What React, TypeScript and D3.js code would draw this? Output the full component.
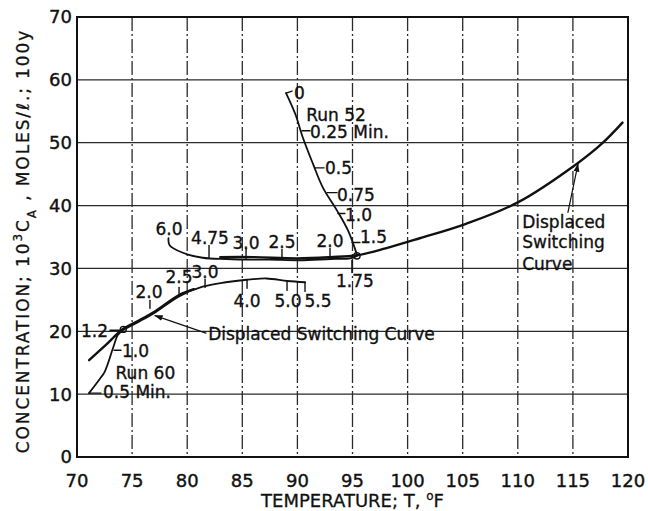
import React from "react";
import * as d3 from "d3";

// axis ticks
const xTicks = [70, 75, 80, 85, 90, 95, 100, 105, 110, 115, 120];
const yTicks = [0, 10, 20, 30, 40, 50, 60, 70];

// displaced switching curve (upper right branch)
const switchUpT = [83, 86, 90, 93, 95.4, 98, 101.1, 105.3, 110, 115.4, 117.6, 119.5];
const switchUpC = [31.8, 31.8, 31.6, 31.8, 32.1, 33.2, 34.8, 37.1, 40.5, 46.7, 49.8, 53.2];

// displaced switching curve (lower left branch)
const switchLowT = [71.1, 72.6, 74.2, 75.7, 77.1, 79.3, 80.6];
const switchLowC = [15.4, 17.8, 20.4, 21.8, 23.2, 25.8, 26.7];

// Run 52 trajectory: drop to the curve, then back along it
const run52DownT = [88.97, 89.8, 90.5, 91.4, 92.3, 93.6, 94.6, 95.4];
const run52DownC = [57.9, 54.6, 50.8, 46.7, 42.9, 39.2, 36.0, 32.2];
const run52BackT = [95.4, 94.8, 93.0, 90.2, 87.5, 85.7, 83.6, 81.4, 79.6, 78.4, 78.3];
const run52BackC = [32.0, 31.6, 31.5, 31.3, 31.4, 31.4, 31.5, 31.7, 32.5, 33.7, 34.8];

// Run 60 trajectory
const run60T = [71.09, 72.1, 72.5, 73.3, 73.7, 74.2, 75.7, 77.1, 79.3, 81.4, 83.5, 85.4, 87.2, 89.1, 90.7];
const run60C = [10.16, 12.5, 13.5, 17.5, 19.4, 20.2, 21.6, 23.0, 25.6, 27.1, 27.8, 28.2, 28.4, 28.0, 27.8];

// time marks (minutes) along each run
const run52Labels = ["0", "0.25 Min.", "0.5", "0.75", "1.0", "1.5", "1.75", "2.0", "2.5", "3.0", "4.75", "6.0"];
const run52MarkT = [88.97, 90.42, 91.6, 92.69, 93.68, 94.95, 94.95, 92.96, 88.6, 85.34, 81.98, 78.35];
const run52MarkC = [57.9, 51.9, 46.0, 42.06, 38.73, 34.13, 31.27, 31.59, 31.43, 31.59, 31.75, 34.76];

const run60Labels = ["0.5 Min.", "1.0", "1.2", "2.0", "2.5", "3.0", "4.0", "5.0", "5.5"];
const run60MarkT = [71.09, 73.36, 73.9, 76.62, 79.26, 81.62, 85.43, 89.06, 90.69];
const run60MarkC = [10.16, 16.98, 20.16, 23.65, 25.56, 26.98, 28.1, 27.78, 27.78];

// layout of each time mark: tick vector, text offset, anchor
type Lay = { tick: [number, number]; text: [number, number]; anchor: string };
const run52Layout: Lay[] = [
  { tick: [6, -2], text: [8, 6], anchor: "start" },
  { tick: [8, 0], text: [8, 7], anchor: "start" },
  { tick: [9, 0], text: [10, 6], anchor: "start" },
  { tick: [10, 0], text: [10, 8], anchor: "start" },
  { tick: [7, 0], text: [7, 7], anchor: "start" },
  { tick: [8, 0], text: [8, 1], anchor: "start" },
  { tick: [0, 12], text: [3, 27], anchor: "middle" },
  { tick: [0, -10], text: [0, -11], anchor: "middle" },
  { tick: [0, -10], text: [0, -11], anchor: "middle" },
  { tick: [0, -10], text: [0, -9], anchor: "middle" },
  { tick: [0, -12], text: [1, -13], anchor: "middle" },
  { tick: [0, 0], text: [0, -4], anchor: "middle" },
];
const run60Layout: Lay[] = [
  { tick: [12, 0], text: [14, 5], anchor: "start" },
  { tick: [7, 0], text: [8, 7], anchor: "start" },
  { tick: [-10, 0], text: [-12, 7], anchor: "end" },
  { tick: [0, -8], text: [-1, -10], anchor: "middle" },
  { tick: [0, -9], text: [0, -13], anchor: "middle" },
  { tick: [0, -8], text: [0, -9], anchor: "middle" },
  { tick: [0, 8], text: [0, 27], anchor: "middle" },
  { tick: [0, 8], text: [1, 25], anchor: "middle" },
  { tick: [0, 9], text: [13, 25], anchor: "middle" },
];

// free text notes, anchored in data coordinates
const notes = [
  { text: "Run 52", T: 90.8, C: 53.5 },
  { text: "Run 60", T: 73.5, C: 12.4 },
  { text: "Displaced Switching Curve", T: 81.9, C: 18.6 },
  { text: "Displaced", T: 110.4, C: 36.5 },
  { text: "Switching", T: 110.4, C: 33.2 },
  { text: "Curve", T: 110.4, C: 29.7 },
];

// arrows [fromT, fromC, toT, toC]
const arrows = [
  [81.7, 19.7, 77.08, 22.5],
  [114.55, 38.9, 115.46, 46.6],
];

const W = 648;
const H = 511;
const FONT = "'DejaVu Sans', sans-serif";
const INK = "#111";
const GRID = "#2a2a2a";

// dash-dot vertical rule as plain path segments
function dashDot(x0: number, top: number, bottom: number) {
  const pattern = [14, 3, 2, 3];
  let d = "";
  let pos = top;
  let k = 0;
  while (pos < bottom) {
    const end = Math.min(pos + pattern[k % 4], bottom);
    if (k % 2 === 0) d += `M${x0},${pos}V${end}`;
    pos = end;
    k++;
  }
  return d;
}

export default function App() {
  const x = d3.scaleLinear().domain([70, 120]).range([77, 628]);
  const y = d3.scaleLinear().domain([0, 70]).range([457, 17]);

  const path = d3
    .line<[number, number]>()
    .x((d) => x(d[0]))
    .y((d) => y(d[1]))
    .curve(d3.curveCatmullRom.alpha(0.5));

  const zip = (a: number[], b: number[]) => a.map((v, i) => [v, b[i]] as [number, number]);

  const marks = (labels: string[], ts: number[], cs: number[], lay: Lay[]) =>
    labels.map((l, i) => ({ l, px: x(ts[i]), py: y(cs[i]), lay: lay[i] }));
  const allMarks = [
    ...marks(run52Labels, run52MarkT, run52MarkC, run52Layout),
    ...marks(run60Labels, run60MarkT, run60MarkC, run60Layout),
  ];

  const gridPath =
    xTicks
      .slice(1, -1)
      .map((t) => dashDot(x(t), y(70), y(0)))
      .join("") +
    yTicks
      .slice(1, -1)
      .map((t) => `M${x(70)},${y(t)}H${x(120)}`)
      .join("");

  return (
    <div style={{ position: "absolute", left: 0, top: 0 }}>
      <svg width={W} height={H} style={{ display: "block", background: "white" }}>
        <defs>
          <marker id="ah" viewBox="0 0 10 10" refX="9" refY="5" markerWidth="7" markerHeight="7" orient="auto">
            <path d="M0,1.5 L10,5 L0,8.5 z" fill={INK} />
          </marker>
        </defs>

        {/* grid */}
        <path d={gridPath} fill="none" stroke={GRID} strokeWidth={1.3} />

        {/* frame */}
        <rect
          x={x(70)}
          y={y(70)}
          width={x(120) - x(70)}
          height={y(0) - y(70)}
          fill="none"
          stroke={INK}
          strokeWidth={2}
        />

        {/* curves */}
        <g fill="none" stroke={INK} strokeLinecap="round" strokeLinejoin="round">
          <path d={path(zip(switchUpT, switchUpC)) ?? ""} strokeWidth={2.4} />
          <path d={path(zip(switchLowT, switchLowC)) ?? ""} strokeWidth={2.4} />
          <path d={path(zip(run52DownT, run52DownC)) ?? ""} strokeWidth={1.8} />
          <path d={path(zip(run52BackT, run52BackC)) ?? ""} strokeWidth={1.8} />
          <path d={path(zip(run60T, run60C)) ?? ""} strokeWidth={1.8} />
          <circle cx={x(95.4)} cy={y(32.0)} r={3.2} strokeWidth={1.4} />
          <circle cx={x(74.2)} cy={y(20.3)} r={3} strokeWidth={1.4} />
          {allMarks.map((m, i) =>
            m.lay.tick[0] === 0 && m.lay.tick[1] === 0 ? null : (
              <line
                key={"t" + i}
                x1={m.px}
                y1={m.py}
                x2={m.px + m.lay.tick[0]}
                y2={m.py + m.lay.tick[1]}
                strokeWidth={1.4}
              />
            )
          )}
          {arrows.map((a, i) => (
            <line
              key={"a" + i}
              x1={x(a[0])}
              y1={y(a[1])}
              x2={x(a[2])}
              y2={y(a[3])}
              strokeWidth={1.2}
              markerEnd="url(#ah)"
            />
          ))}
        </g>

        {/* run labels */}
        <g fontFamily={FONT} fontSize={17} fill={INK} stroke={INK} strokeWidth={0.35}>
          {allMarks.map((m, i) => (
            <text key={"m" + i} x={m.px + m.lay.text[0]} y={m.py + m.lay.text[1]} textAnchor={m.lay.anchor}>
              {m.l}
            </text>
          ))}
          {notes.map((n, i) => (
            <text key={"n" + i} x={x(n.T)} y={y(n.C)}>
              {n.text}
            </text>
          ))}
        </g>

        {/* tick labels */}
        <g fontFamily={FONT} fontSize={18} fill={INK} stroke={INK} strokeWidth={0.4}>
          {yTicks.map((t) => (
            <text key={"yl" + t} x={72} y={y(t)} dy="0.36em" textAnchor="end">
              {t}
            </text>
          ))}
          {xTicks.map((t) => (
            <text key={"xl" + t} x={x(t)} y={487} textAnchor="middle">
              {t}
            </text>
          ))}
        </g>

        {/* axis titles */}
        <text
          x={x(95)}
          y={507}
          textAnchor="middle"
          fontFamily={FONT}
          fontSize={18}
          fill={INK}
          stroke={INK}
          strokeWidth={0.3}
        >
          TEMPERATURE; T, <tspan baselineShift="super" fontSize={12}>o</tspan>F
        </text>
        <text
          transform="translate(29,241) rotate(-90)"
          textAnchor="middle"
          fontFamily={FONT}
          fontSize={17}
          fill={INK}
          stroke={INK}
          strokeWidth={0.3}
          letterSpacing={1.9}
        >
          CONCENTRATION; 10<tspan baselineShift="super" fontSize={12}>3</tspan>C
          <tspan baselineShift="sub" fontSize={12}>A</tspan> , MOLES/ℓ.; 100y
        </text>
      </svg>
    </div>
  );
}
